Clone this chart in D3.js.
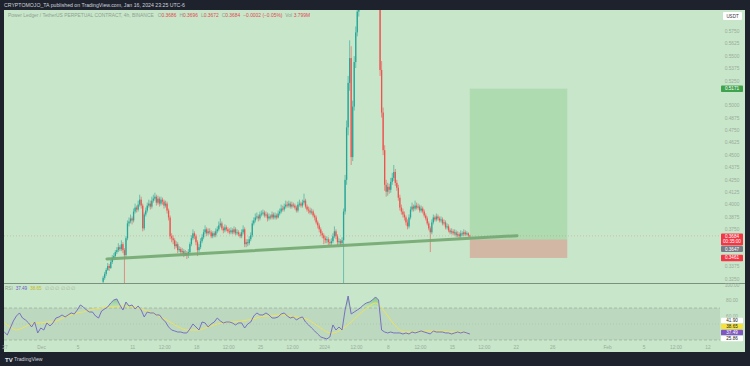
<!DOCTYPE html>
<html><head><meta charset="utf-8">
<script src="https://cdn.jsdelivr.net/npm/d3@7"></script>
<style>body{margin:0;background:#1e222d;}svg{display:block;font-family:"Liberation Sans",Arial,sans-serif;}</style>
</head><body><svg id="c" width="750" height="366"></svg>
<script>
// ---------------- DATA ----------------
const candleStart = "2023-12-07T18:00";   // first visible 4h candle
const candleStepHours = 4;
const firstOpen = 0.322;
const closes = [
0.326,0.330,0.334,0.338,0.336,0.342,0.346,0.348,0.352,0.354,
0.357,0.355,0.360,0.354,0.349,0.366,0.381,0.383,0.386,0.384,
0.393,0.397,0.395,0.400,0.405,0.399,0.376,0.390,0.394,0.399,
0.401,0.398,0.404,0.406,0.408,0.402,0.406,0.401,0.405,0.403,
0.399,0.401,0.394,0.387,0.368,0.366,0.364,0.358,0.360,0.354,
0.355,0.352,0.353,0.350,0.351,0.349,0.352,0.360,0.366,0.371,
0.368,0.362,0.354,0.357,0.363,0.367,0.372,0.375,0.371,0.373,
0.372,0.368,0.371,0.369,0.373,0.375,0.379,0.381,0.376,0.374,
0.377,0.375,0.373,0.372,0.374,0.372,0.375,0.371,0.372,0.370,
0.368,0.372,0.375,0.360,0.362,0.361,0.365,0.369,0.381,0.384,
0.387,0.388,0.386,0.390,0.391,0.392,0.389,0.390,0.386,0.388,
0.387,0.390,0.387,0.389,0.387,0.391,0.393,0.396,0.395,0.398,
0.400,0.399,0.401,0.398,0.400,0.399,0.397,0.394,0.400,0.401,
0.399,0.402,0.404,0.398,0.395,0.394,0.392,0.393,0.389,0.387,
0.382,0.379,0.375,0.371,0.369,0.366,0.364,0.365,0.362,0.361,
0.363,0.368,0.373,0.368,0.362,0.363,0.361,0.364,0.393,0.425,
0.478,0.523,0.548,0.448,0.499,0.544,0.574,0.595,0.617,0.627,
0.647,0.637,0.667,0.657,0.688,0.677,0.647,0.662,0.637,0.627,
0.619,0.612,0.536,0.493,0.455,0.420,0.413,0.418,0.415,0.423,
0.427,0.433,0.422,0.417,0.407,0.397,0.393,0.390,0.387,0.382,
0.378,0.387,0.395,0.398,0.396,0.399,0.397,0.398,0.394,0.396,
0.393,0.389,0.386,0.381,0.376,0.372,0.382,0.387,0.385,0.388,
0.386,0.384,0.385,0.381,0.382,0.377,0.378,0.374,0.372,0.373,
0.371,0.372,0.369,0.370,0.368,0.371,0.370,0.372,0.370,0.371,
0.3686,0.3684];
const highs = [
0.328,0.332,0.336,0.341,0.340,0.344,0.349,0.351,0.354,0.357,
0.361,0.359,0.364,0.362,0.356,0.368,0.384,0.387,0.390,0.388,
0.396,0.401,0.399,0.404,0.410,0.408,0.401,0.392,0.397,0.402,
0.405,0.404,0.408,0.410,0.412,0.410,0.409,0.408,0.408,0.407,
0.405,0.404,0.403,0.396,0.389,0.371,0.369,0.366,0.363,0.362,
0.358,0.357,0.356,0.355,0.354,0.353,0.355,0.362,0.369,0.375,
0.373,0.370,0.364,0.360,0.366,0.370,0.375,0.379,0.377,0.376,
0.376,0.374,0.373,0.373,0.376,0.378,0.383,0.386,0.383,0.378,
0.380,0.379,0.377,0.376,0.377,0.376,0.378,0.377,0.375,0.374,
0.372,0.375,0.379,0.377,0.365,0.365,0.368,0.372,0.384,0.387,
0.391,0.392,0.390,0.393,0.394,0.395,0.394,0.393,0.392,0.391,
0.390,0.393,0.392,0.392,0.391,0.394,0.396,0.400,0.399,0.401,
0.404,0.403,0.404,0.403,0.403,0.402,0.401,0.399,0.403,0.405,
0.403,0.405,0.411,0.406,0.400,0.398,0.397,0.396,0.395,0.391,
0.389,0.384,0.381,0.377,0.373,0.371,0.368,0.368,0.367,0.365,
0.366,0.371,0.378,0.375,0.370,0.366,0.365,0.367,0.396,0.430,
0.485,0.530,0.566,0.560,0.505,0.550,0.580,0.602,0.625,0.640,
0.660,0.655,0.680,0.675,0.700,0.695,0.685,0.670,0.668,0.645,
0.635,0.625,0.618,0.545,0.498,0.460,0.425,0.422,0.421,0.427,
0.432,0.440,0.436,0.425,0.420,0.410,0.400,0.396,0.393,0.389,
0.385,0.390,0.398,0.402,0.400,0.404,0.402,0.401,0.400,0.399,
0.398,0.395,0.391,0.388,0.383,0.378,0.385,0.390,0.389,0.391,
0.390,0.388,0.388,0.387,0.385,0.384,0.381,0.380,0.376,0.376,
0.375,0.375,0.374,0.373,0.372,0.374,0.373,0.375,0.374,0.373,
0.372,0.3696];
const lows = [
0.320,0.324,0.328,0.333,0.333,0.335,0.340,0.344,0.346,0.350,
0.352,0.353,0.353,0.351,0.318,0.347,0.364,0.378,0.381,0.380,
0.382,0.391,0.392,0.393,0.398,0.396,0.373,0.374,0.388,0.392,
0.397,0.395,0.396,0.402,0.404,0.399,0.400,0.398,0.399,0.400,
0.396,0.397,0.391,0.384,0.365,0.362,0.360,0.355,0.356,0.351,
0.352,0.349,0.350,0.347,0.348,0.345,0.346,0.350,0.358,0.364,
0.365,0.359,0.348,0.352,0.355,0.361,0.365,0.370,0.368,0.369,
0.370,0.366,0.366,0.367,0.367,0.371,0.373,0.377,0.374,0.371,
0.372,0.373,0.371,0.370,0.370,0.370,0.370,0.369,0.369,0.368,
0.366,0.366,0.370,0.357,0.357,0.358,0.359,0.363,0.367,0.379,
0.382,0.385,0.383,0.384,0.388,0.389,0.387,0.387,0.383,0.384,
0.385,0.385,0.385,0.385,0.385,0.386,0.389,0.391,0.393,0.393,
0.396,0.397,0.397,0.396,0.396,0.397,0.395,0.392,0.392,0.398,
0.397,0.397,0.400,0.396,0.393,0.391,0.390,0.390,0.387,0.384,
0.380,0.376,0.372,0.368,0.366,0.360,0.361,0.361,0.359,0.358,
0.359,0.361,0.366,0.365,0.359,0.360,0.358,0.359,0.320,0.390,
0.420,0.470,0.515,0.440,0.444,0.495,0.538,0.570,0.590,0.605,
0.620,0.625,0.632,0.645,0.650,0.665,0.640,0.638,0.630,0.615,
0.608,0.602,0.530,0.488,0.450,0.414,0.408,0.409,0.411,0.412,
0.420,0.424,0.419,0.414,0.404,0.394,0.390,0.387,0.384,0.379,
0.375,0.376,0.385,0.393,0.393,0.394,0.395,0.395,0.392,0.392,
0.391,0.387,0.384,0.379,0.374,0.352,0.370,0.380,0.383,0.383,
0.384,0.382,0.382,0.379,0.379,0.375,0.375,0.372,0.370,0.370,
0.369,0.369,0.367,0.367,0.366,0.366,0.368,0.368,0.368,0.369,
0.367,0.3672];

const rsiStart = "2023-11-26T22:00";
const rsiStepHours = 8;
const rsiValues = [
40,36.3,45,53.8,60,63.8,57.5,55,51.3,46.3,
52.5,38.8,45,42.5,51.3,47.5,51.3,57.5,58.8,61.3,
58.8,61.3,63.8,62.5,67.5,73.8,71.3,67.5,65,65,
60,57.5,66.3,68.8,71.3,76.3,80,81.3,73.8,67.5,
77.5,72.5,73.8,68.8,72.5,67.5,58.8,65,63.8,63.8,
61.3,61.3,56.3,52.5,46.3,42.5,41.3,40,40,38.8,
38.8,43.8,50,46.3,42.5,52.5,51.3,46.3,50,52.5,
57.5,53.8,51.3,52.5,52.5,51.3,48.8,51.3,51.3,45,
50,52.5,60,63.8,61.3,61.3,63.8,61.3,57.5,57.5,
58.8,62.5,63.8,60,57.5,58.8,55,57.5,58.8,52.5,
48.8,45,41.3,37.5,33.8,32.5,31.3,33.8,48.8,42.5,
46.3,42.5,67.5,85,62.5,65,67.5,70,73.8,76.3,
77.5,80,83.8,80,42.5,40,38.8,40,38.8,38.8,
38.8,37.5,38.8,37.5,40,38.8,40,41.3,40,38.8,
37.5,41.3,40,40,40,38.8,38.8,37.5,38.8,40,
38.8,40,38.8,37.49];
const rsiMaStepHours = 16;
const rsiMaValues = [
51.3,46.3,42.5,45,48.8,51.3,51.3,52.5,52.5,55,
58.8,61.3,63.8,65,67.5,68.8,70,71.3,71.3,72.5,
72.5,71.3,70,67.5,65,61.3,57.5,53.8,48.8,45,
42.5,42.5,42.5,45,47.5,50,51.3,52.5,52.5,53.8,
55,56.3,58.8,60,60,61.3,61.3,60,58.8,57.5,
55,50,45,40,38.8,41.3,46.3,52.5,60,66.3,
72.5,76.3,70,60,50,42.5,40,40,40,41.3,
41.3,41.3,41.3,40,40,40,38.65];

const priceTicks = [0.3250,0.3375,0.3500,0.3625,0.3750,0.3875,0.4000,0.4125,0.4250,0.4375,0.4500,
  0.4625,0.4750,0.4875,0.5000,0.5125,0.5250,0.5375,0.5500,0.5625,0.5750];
const rsiTicks = [100,80,60];
const timeTickDates = ["2023-11-27T00:00","2023-12-01T00:00","2023-12-05T00:00","2023-12-11T00:00","2023-12-14T12:00",
  "2023-12-18T00:00","2023-12-21T12:00","2023-12-25T00:00","2023-12-28T12:00","2024-01-01T00:00","2024-01-04T12:00",
  "2024-01-08T00:00","2024-01-11T12:00","2024-01-15T00:00","2024-01-18T12:00","2024-01-22T00:00","2024-01-26T00:00",
  "2024-02-01T00:00","2024-02-05T00:00","2024-02-08T12:00","2024-02-12T00:00"];
const timeTickLabels = ["27","Dec","5","11","12:00","18","12:00","25","12:00","2024","12:00",
  "8","12:00","15","12:00","22","26","Feb","5","12:00","12"];

// long position tool
const positionStart = "2024-01-16T22:00";
const positionEnd = "2024-01-27T14:00";
const entryPrice = 0.3647, targetPrice = 0.5171, stopPrice = 0.3461;
// support trend line
const trendStart = ["2023-12-08T04:00", 0.3451];
const trendEnd = ["2024-01-22T02:00", 0.3686];
const lastPrice = 0.3684;
const rsiSideLabels = [41.90, 38.65, 37.49, 25.86];

// ---------------- DRAW ----------------
const T = s => new Date(s + "Z");
const svg = d3.select("#c");
const BG = "#c8e6c9";
svg.append("rect").attr("width",750).attr("height",366).attr("fill","#1e222d");
svg.append("rect").attr("x",4).attr("y",10).attr("width",741).attr("height",342).attr("fill",BG);

const x = d3.scaleUtc().domain([T("2023-11-27T00:00"), T("2024-02-12T00:00")]).range([5,708]);
const y = d3.scaleLinear().domain([0.3208,0.5966]).range([283,10]);
const yr = d3.scaleLinear().domain([27.5,100]).range([342,284]);

const defs = svg.append("defs");
defs.append("clipPath").attr("id","pc").append("rect").attr("x",4).attr("y",10).attr("width",716).attr("height",273);
defs.append("clipPath").attr("id","rc").append("rect").attr("x",4).attr("y",284).attr("width",716).attr("height",58);
defs.append("clipPath").attr("id","ob").append("rect").attr("x",4).attr("y",284).attr("width",716).attr("height",yr(70)-284);
const g = defs.append("linearGradient").attr("id","obg").attr("x1",0).attr("x2",0)
  .attr("gradientUnits","userSpaceOnUse").attr("y1",yr(95)).attr("y2",yr(70));
g.append("stop").attr("offset",0).attr("stop-color","#2e9d3c").attr("stop-opacity",0.9);
g.append("stop").attr("offset",1).attr("stop-color","#4caf50").attr("stop-opacity",0.05);

// ---- price pane ----
const pp = svg.append("g").attr("clip-path","url(#pc)");

// position tool
const px0 = x(T(positionStart)), px1 = x(T(positionEnd));
pp.append("rect").attr("x",px0).attr("width",px1-px0).attr("y",y(targetPrice)).attr("height",y(entryPrice)-y(targetPrice))
  .attr("fill","rgba(76,175,80,0.2)");
pp.append("rect").attr("x",px0).attr("width",px1-px0).attr("y",y(entryPrice)).attr("height",y(stopPrice)-y(entryPrice))
  .attr("fill","rgba(242,54,69,0.27)");

// last price line
pp.append("line").attr("x1",4).attr("x2",720).attr("y1",y(lastPrice)).attr("y2",y(lastPrice))
  .attr("stroke","rgba(200,80,80,0.35)").attr("stroke-width",0.7).attr("stroke-dasharray","1,2");

const t0 = T(candleStart).getTime();
const candles = closes.map((c,k)=>({t:new Date(t0 + k*candleStepHours*3600e3),
  o: k ? closes[k-1] : firstOpen, h: highs[k], l: lows[k], c}));
const UP = "#26a69a", DN = "#ef5350";
const cg = pp.append("g");
cg.selectAll("line.w").data(candles).join("line").attr("class","w")
  .attr("x1",d=>x(d.t)).attr("x2",d=>x(d.t)).attr("y1",d=>y(d.h)).attr("y2",d=>y(d.l))
  .attr("stroke",d=>d.c>=d.o?UP:DN).attr("stroke-width",0.6);
cg.selectAll("rect.b").data(candles).join("rect").attr("class","b")
  .attr("x",d=>x(d.t)-0.65).attr("width",1.3)
  .attr("y",d=>y(Math.max(d.o,d.c)))
  .attr("height",d=>Math.max(0.6, Math.abs(y(d.o)-y(d.c))))
  .attr("fill",d=>d.c>=d.o?UP:DN);

// trend line
pp.append("line").attr("x1",x(T(trendStart[0]))).attr("y1",y(trendStart[1]))
  .attr("x2",x(T(trendEnd[0]))).attr("y2",y(trendEnd[1]))
  .attr("stroke","#74a872").attr("stroke-width",3).attr("stroke-linecap","round").attr("opacity",0.9);

// pane separator
svg.append("line").attr("x1",4).attr("x2",745).attr("y1",283.5).attr("y2",283.5).attr("stroke","#7c907e").attr("stroke-width",1);

// ---- RSI pane ----
const rp = svg.append("g").attr("clip-path","url(#rc)");
rp.append("rect").attr("x",4).attr("width",716).attr("y",yr(70)).attr("height",yr(30)-yr(70)).attr("fill","rgba(110,125,115,0.13)");
[70,30].forEach(v=>rp.append("line").attr("x1",4).attr("x2",720).attr("y1",yr(v)).attr("y2",yr(v))
  .attr("stroke","#93a595").attr("stroke-width",0.6).attr("stroke-dasharray","3,2"));
rp.append("line").attr("x1",4).attr("x2",720).attr("y1",yr(50)).attr("y2",yr(50))
  .attr("stroke","rgba(130,145,132,0.35)").attr("stroke-width",0.5).attr("stroke-dasharray","1,2");

const r0 = T(rsiStart).getTime();
const rsi = rsiValues.map((v,j)=>({t:new Date(r0 + j*rsiStepHours*3600e3), v}));
const rma = rsiMaValues.map((v,j)=>({t:new Date(r0 + j*rsiMaStepHours*3600e3), v}));
rp.append("path").datum(rsi).attr("clip-path","url(#ob)")
  .attr("d",d3.area().x(d=>x(d.t)).y0(yr(70)).y1(d=>yr(d.v))).attr("fill","url(#obg)");
rp.append("path").datum(rma).attr("d",d3.line().x(d=>x(d.t)).y(d=>yr(d.v)).curve(d3.curveMonotoneX))
  .attr("fill","none").attr("stroke","#f0e25a").attr("stroke-width",1);
rp.append("path").datum(rsi).attr("d",d3.line().x(d=>x(d.t)).y(d=>yr(d.v)))
  .attr("fill","none").attr("stroke","#7264c4").attr("stroke-width",0.9);

// ---- text / axes ----
const AX = "#9aac9c";
svg.append("text").attr("x",4).attr("y",7.3).attr("font-size",5.2).attr("fill","#d1d4dc")
  .text("CRYPTOMOJO_TA published on TradingView.com, Jan 16, 2024 23:25 UTC-6");

const lg = svg.append("text").attr("x",8).attr("y",17).attr("font-size",4.9).attr("fill","#8fa191");
lg.append("tspan").text("Power Ledger / TetherUS PERPETUAL CONTRACT, 4h, BINANCE");
const RED = "#e34850";
[["O","0.3686"],["H","0.3696"],["L","0.3672"],["C","0.3684"]].forEach(([k,v],i)=>{
  lg.append("tspan").attr("dx", i?3:4).attr("fill","#8fa191").text(k);
  lg.append("tspan").attr("fill",RED).text(v);
});
lg.append("tspan").attr("dx",3).attr("fill",RED).text("−0.0002 (−0.05%)");
lg.append("tspan").attr("dx",3).attr("fill","#8fa191").text("Vol");
lg.append("tspan").attr("dx",1.5).attr("fill",RED).text("3.799M");

// RSI legend
const rl = svg.append("text").attr("x",5).attr("y",289.5).attr("font-size",4.6).attr("fill","#8fa191");
rl.append("tspan").text("RSI");
rl.append("tspan").attr("dx",3).attr("fill","#6a5acd").text("37.49");
rl.append("tspan").attr("dx",3).attr("fill","#c7b820").text("38.65");
rl.append("tspan").attr("dx",3).attr("fill","#a3b3a5").text("∅ ∅ ∅ ∅ ∅ ∅");

// time axis
svg.append("g").selectAll("text").data(timeTickDates).join("text")
  .attr("x",d=>x(T(d))).attr("y",349).attr("text-anchor","middle").attr("font-size",4.8).attr("fill",AX)
  .text((d,i)=>timeTickLabels[i]);

// price axis labels
const special = [targetPrice, lastPrice, entryPrice, stopPrice].map(p=>y(p));
svg.append("g").selectAll("text").data(priceTicks.filter(p=>special.every(s=>Math.abs(y(p)-s)>6)))
  .join("text").attr("x",732).attr("y",d=>y(d)+1.7).attr("text-anchor","middle").attr("font-size",4.8).attr("fill",AX)
  .text(d=>d.toFixed(4));
svg.append("g").selectAll("text").data(rsiTicks).join("text")
  .attr("x",732).attr("y",d=>Math.max(yr(d)+1.7,287)).attr("text-anchor","middle").attr("font-size",4.8).attr("fill",AX)
  .text(d=>d.toFixed(2));

// USDT box
svg.append("rect").attr("x",723).attr("y",12).attr("width",19).attr("height",8).attr("rx",1).attr("fill","#ffffff");
svg.append("text").attr("x",732.5).attr("y",17.6).attr("text-anchor","middle").attr("font-size",4.5).attr("fill","#333").text("USDT");

function tag(cy, h, fill, lines, tc){
  svg.append("rect").attr("x",721).attr("y",cy-h/2).attr("width",22).attr("height",h).attr("rx",0.8).attr("fill",fill);
  lines.forEach((s,i)=>svg.append("text").attr("x",732).attr("y",cy-h/2+4.7+i*5.3).attr("text-anchor","middle")
    .attr("font-size",4.6).attr("fill",tc||"#fff").text(s));
}
tag(y(targetPrice), 6.5, "#3fa34d", [targetPrice.toFixed(4)]);
const lp = y(lastPrice);
tag(lp+3.5, 12, "#f23645", [lastPrice.toFixed(4), "00:35:00"]);
tag(lp+3.5+6+3.5, 6, "#787b86", [entryPrice.toFixed(4)]);
tag(y(stopPrice), 6.5, "#f23645", [stopPrice.toFixed(4)]);

// RSI side labels, stacked upward from pane bottom
const rsiColors = [["#ffffff","#222"],["#f5e23c","#222"],["#7e57c2","#fff"],["#ffffff","#222"]];
let limit = 338.5;
const pos = rsiSideLabels.map(v=>yr(v));
for(let i=pos.length-1;i>=0;i--){ pos[i] = Math.min(pos[i], limit); limit = pos[i]-6; }
rsiSideLabels.forEach((v,i)=>tag(pos[i], 5.6, rsiColors[i][0], [v.toFixed(2)], rsiColors[i][1]));

// TradingView footer
svg.append("text").attr("x",5).attr("y",361.5).attr("font-size",6).attr("font-weight","bold").attr("fill","#e6e8ee").text("TV");
svg.append("text").attr("x",14).attr("y",361.3).attr("font-size",5.2).attr("fill","#d1d4dc").text("TradingView");
</script></body></html>
